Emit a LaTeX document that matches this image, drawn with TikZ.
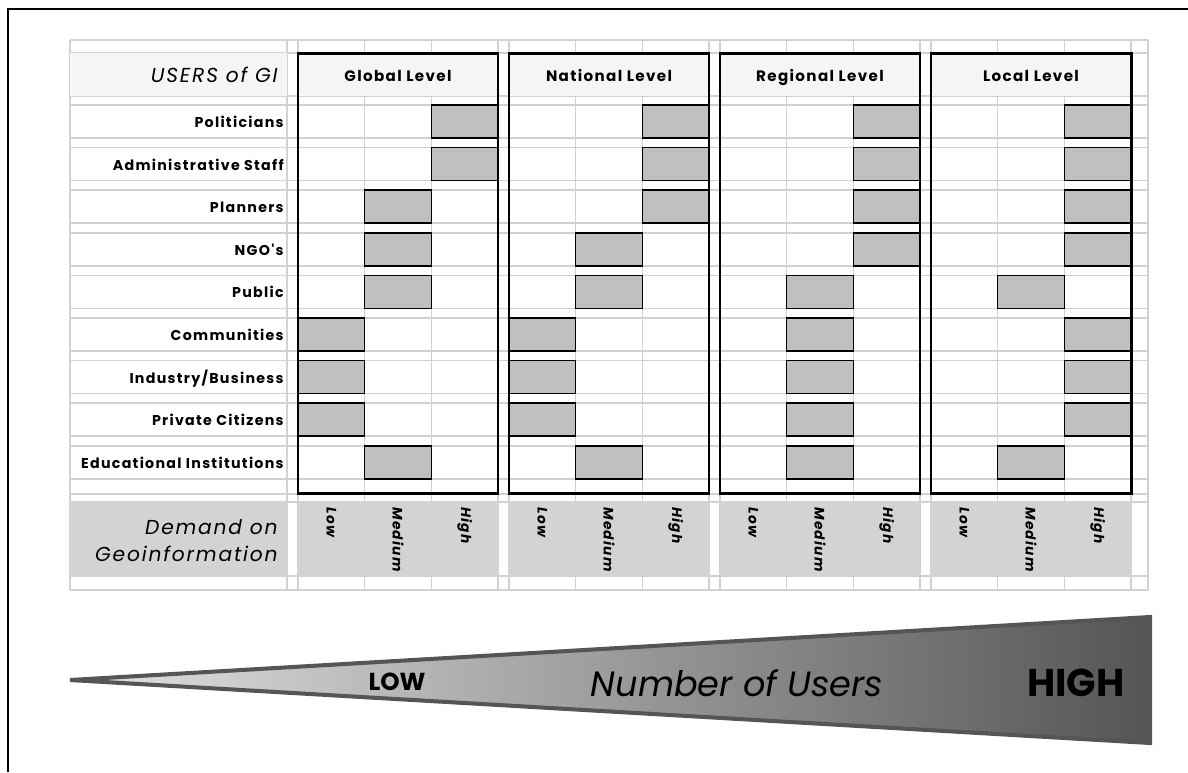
\documentclass[tikz,border=0pt]{standalone}
\usepackage{fontspec}
\setmainfont{Poppins}
\newfontfamily\spaced[LetterSpace=9]{Poppins}
\usetikzlibrary{positioning}
\definecolor{gridgray}{HTML}{D2D2D2}
\definecolor{barfill}{HTML}{C0C0C0}
\definecolor{headfill}{HTML}{F5F5F5}
\definecolor{bandfill}{HTML}{D3D3D3}
\definecolor{wedgedark}{HTML}{555555}
\definecolor{wedgelight}{HTML}{E2E2E2}
\tikzset{
  gridline/.style={draw=gridgray,line width=0.9pt},
  levelbox/.style={draw=black,line width=1.7pt},
  bar/.style={draw=black,fill=barfill,line width=0.9pt},
  userlabel/.style={anchor=base east,inner sep=0pt,font=\spaced\bfseries\fontsize{8.1}{9}\selectfont},
  levelhead/.style={anchor=base,inner sep=0pt,font=\spaced\bfseries\fontsize{8.6}{10}\selectfont},
  demandlabel/.style={rotate=-90,anchor=west,inner sep=0pt,font=\spaced\bfseries\itshape\fontsize{7.8}{9}\selectfont},
  bigitalic/.style={anchor=east,inner sep=0pt,align=right,font=\spaced\itshape\fontsize{11.5}{15.3}\selectfont}
}
\begin{document}
\begin{tikzpicture}[x=0.02cm,y=-0.02cm]
\useasboundingbox (0,0) rectangle (1188,772);
\draw[line width=1.1pt] (8,772) -- (8,9) -- (1188,9);

% sheet grid
\foreach \y in {40,53,96,494,502,576,590}
  \draw[gridline] (70,\y) -- (1148,\y);
\foreach \r in {0,...,8} {
  \draw[gridline] (70,105+42.6*\r) -- (1148,105+42.6*\r);
  \draw[gridline] (70,138+42.6*\r) -- (1148,138+42.6*\r);
}
\foreach \x in {70,287,298,1148}
  \draw[gridline] (\x,40) -- (\x,590);
\foreach \k in {0,...,3}
  \foreach \s in {0,66.67,133.33,200}
    \draw[gridline] (298+211*\k+\s,40) -- (298+211*\k+\s,590);

\fill[headfill] (70,53) rectangle (287,96);
\fill[bandfill] (70,502) rectangle (287,576);
\node[bigitalic] (users) at (278,75) {USERS of GI};
\node[bigitalic] (demand) at (278,541) {Demand on\\Geoinformation};

\foreach \u [count=\r from 0] in {Politicians,Administrative Staff,Planners,NGO's,Public,Communities,Industry/Business,Private Citizens,Educational Institutions}
  \node[userlabel] (u\r) at (284,127.5+42.6*\r) {\u};

% levels, bar column per user: 0 low, 1 medium, 2 high
\foreach \name/\bars [count=\k from 0] in {
    Global Level/{2,2,1,1,1,0,0,0,1},
    National Level/{2,2,2,1,1,0,0,0,1},
    Regional Level/{2,2,2,2,1,1,1,1,1},
    Local Level/{2,2,2,2,1,2,2,2,1}} {
  \pgfmathsetmacro\L{298+211*\k}
  \fill[headfill] (\L,53) rectangle (\L+200,96);
  \fill[bandfill] (\L,502) rectangle (\L+200,576);
  \foreach \c [count=\r from 0] in \bars
    \draw[bar] (\L+66.67*\c,105+42.6*\r) rectangle ++(66.67,33);
  \draw[levelbox] (\L,53) rectangle (\L+200,493);
  \node[levelhead] (h\k) at (\L+100,81) {\name};
  \foreach \d [count=\c from 0] in {Low,Medium,High}
    \node[demandlabel] (d\k\c) at (\L+33.33+66.67*\c,507) {\d};
}

% number of users wedge
\coordinate (tip) at (70,680);
\coordinate (wtop) at (1150,617);
\coordinate (wbot) at (1150,743);
\shade[left color=wedgelight,right color=wedgedark] (tip) -- (wtop) -- (wbot) -- cycle;
\draw[wedgedark,line width=2.3pt] (tip) -- (wtop) -- (wbot) -- cycle;
\node[font=\bfseries\fontsize{14}{16}\selectfont] (low) at (397,682) {LOW};
\node[font=\itshape\fontsize{20}{24}\selectfont] (number) at (737,683) {Number of Users};
\node[font=\bfseries\fontsize{22}{26}\selectfont] (high) at (1076,683) {HIGH};
\end{tikzpicture}
\end{document}
